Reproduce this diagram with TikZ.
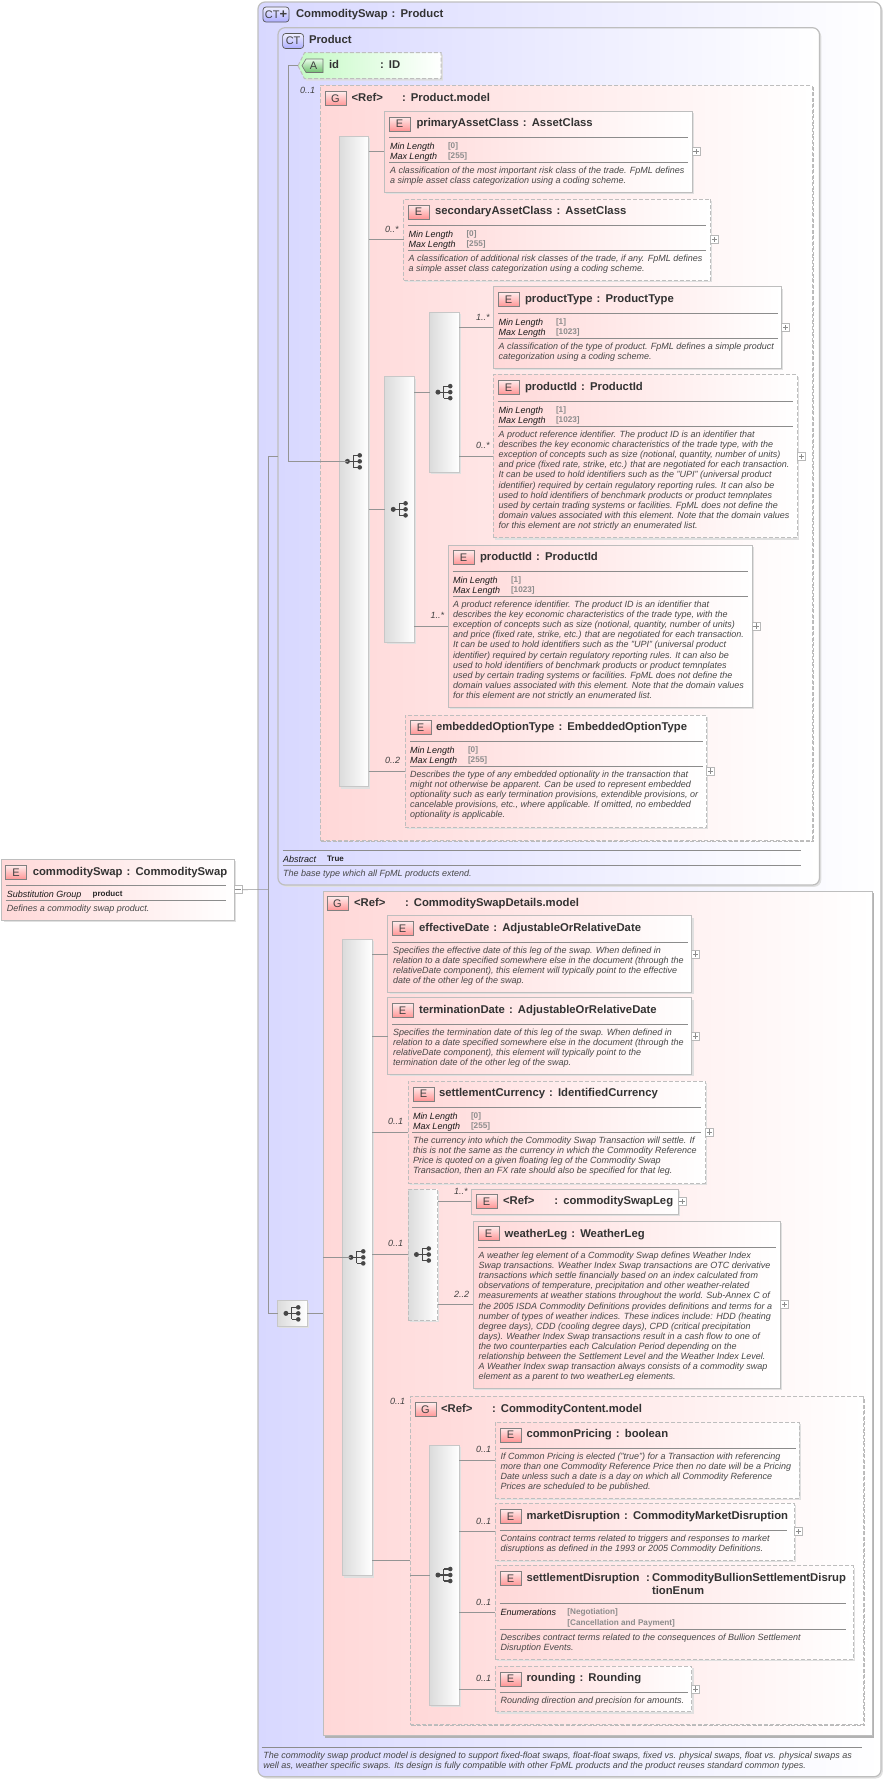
\documentclass[tikz,border=0pt]{standalone}
\usepackage{xcolor}
\usepackage{fontspec}
\setmainfont{Liberation Sans}
\newfontfamily\titlefont[WordSpace=1.3]{Liberation Sans}
\usetikzlibrary{shadows}
\definecolor{ctblue}{HTML}{D8D8FF}
\definecolor{grppink}{HTML}{FFD8D8}
\definecolor{attgreen}{HTML}{C4FAC4}
\definecolor{attdark}{HTML}{6FBF6F}
\definecolor{frame}{HTML}{BEBEBE}

\begin{document}
\begin{tikzpicture}[x=1pt,y=-1pt]
  \tikzstyle{every node}=[inner sep=0pt,outer sep=0pt]
  \tikzstyle{ctbox}=[draw=frame,line width=1.2pt,rounded corners=7pt,left color=ctblue,right color=white,anchor=north west]
  \tikzstyle{shade}=[general shadow={shadow xshift=1.8pt,shadow yshift=-1.8pt,fill=black!12}]
  \tikzstyle{dashshade}=[general shadow={shadow xshift=1.6pt,shadow yshift=-1.6pt,draw=black!27,line width=1.6pt,dash pattern=on 4pt off 1.5pt}]
  \tikzstyle{grpreq}=[draw=frame,line width=1pt,left color=grppink,right color=white,anchor=north west,general shadow={shadow xshift=2pt,shadow yshift=-2pt,fill=black!30}]
  \tikzstyle{grpopt}=[draw=frame,line width=1pt,dash pattern=on 4pt off 2pt,left color=grppink,right color=white,anchor=north west,dashshade]
  \tikzstyle{elem}=[draw=frame,line width=1pt,left color=grppink,right color=white,anchor=north west,shade]
  \tikzstyle{elemopt}=[draw=frame,line width=1pt,dash pattern=on 4pt off 2pt,left color=grppink,right color=white,anchor=north west,shade]
  \tikzstyle{seqbar}=[draw=black!22,line width=.9pt,left color=black!14,right color=white,anchor=north west,minimum width=29.5pt,shade]
  \tikzstyle{seqbaropt}=[seqbar,draw=frame,dash pattern=on 4pt off 2pt]
  \tikzstyle{badge}=[draw=black!50,line width=.6pt,top color=red!8,bottom color=red!42,anchor=north west,minimum width=21pt,minimum height=14pt,font=\fontsize{11}{11}\selectfont,text=black!75]
  \tikzstyle{ctbadge}=[draw=black!65,line width=.7pt,rounded corners=3pt,top color=blue!6,bottom color=blue!32,anchor=north west,minimum height=15pt,font=\fontsize{11}{11}\selectfont,text=black!75]
  \tikzstyle{title}=[anchor=west,font=\titlefont\bfseries\fontsize{11.3}{12.6}\selectfont,text=black!80,text height=8pt,text depth=0pt]
  \tikzstyle{facet}=[anchor=west,font=\itshape\fontsize{9}{10}\selectfont,text=black!90,text height=8pt,text depth=0pt]
  \tikzstyle{fval}=[anchor=west,font=\bfseries\fontsize{8.2}{10}\selectfont,text=black!45,text height=8pt,text depth=0pt]
  \tikzstyle{desc}=[anchor=north west,align=left,font=\itshape\fontsize{9}{10.1}\selectfont,text=black!72]
  \tikzstyle{mult}=[anchor=west,font=\itshape\fontsize{9}{10}\selectfont,text=black!75,text height=7pt,text depth=0pt]
  \tikzstyle{rule}=[draw=black!45,line width=.7pt]
  \tikzstyle{conn}=[draw=black!42,line width=.7pt]
  \tikzstyle{plusbox}=[draw=black!28,line width=.6pt,fill=white,anchor=west,minimum width=8pt,minimum height=8pt,path picture={\draw[black!45,line width=.6pt] (path picture bounding box.center) ++(-2.7,0) -- ++(5.4,0) ++(-2.7,-2.7) -- ++(0,5.4);}]
  \tikzstyle{minusbox}=[plusbox,path picture={\draw[black!45,line width=.6pt] (path picture bounding box.center) ++(-2.7,0) -- ++(5.4,0);}]
  \tikzset{seqicon/.pic={
    \draw[black!72,line width=1.1pt] (-6.3,0) -- (-.5,0) (-.5,-6) -- (-.5,6) (-.5,-6) -- (6,-6) (-.5,0) -- (6,0) (-.5,6) -- (6,6);
    \fill[black!72] (-6.3,0) circle (2.5) (6,-6) circle (2.3) (6,0) circle (2.3) (6,6) circle (2.3);
  }}

  % outer complex type
  \node[ctbox,minimum width=623pt,minimum height=1774.7pt,shade] (commoditySwapCT) at (258,2) {};
  \node[ctbadge,minimum width=26pt] (commoditySwapBadge) at (263,7) {CT{\bfseries\fontsize{13}{13}\selectfont +}};
  \node[title] (commoditySwapTitle) at (296,13.7) {CommoditySwap : Product};
  \draw[rule] (261.7,1747.3) -- (862.4,1747.3);
  \node[desc] (commoditySwapDoc) at (263.4,1752) {The commodity swap product model is designed to support fixed-float swaps, float-float swaps, fixed vs. physical swaps, float vs. physical swaps as\\well as, weather specific swaps. Its design is fully compatible with other FpML products and the product reuses standard common types.};

  % base type
  \node[ctbox,minimum width=541.5pt,minimum height=857.3pt,shade] (productCT) at (278,27.7) {};
  \node[ctbadge,minimum width=21pt] (productBadge) at (282.6,33.5) {CT};
  \node[title] (productTitle) at (309,39.7) {Product};
  \draw[rule] (282.6,850) -- (801,850);
  \node[facet] (abstractKey) at (283,858) {Abstract};
  \node[fval,text=black!85,font=\bfseries\fontsize{8}{10}\selectfont] (abstractVal) at (327,857.5) {True};
  \draw[rule] (282.6,865.3) -- (801,865.3);
  \node[desc] (productDoc) at (283,870) {The base type which all FpML products extend.};

  \draw[left color=attgreen,right color=white,draw=frame,line width=1pt,dash pattern=on 4pt off 2pt,general shadow={shadow xshift=1.8pt,shadow yshift=-1.8pt,fill=black!13}] (298,65.7) -- (304.5,52.7) -- (441,52.7) -- (441,78.7) -- (304.5,78.7) -- cycle;
  \coordinate (idTip) at (298,65.7);
  \draw[top color=attgreen!40,bottom color=attdark,draw=black!55,line width=.6pt] (302,65.7) -- (306,59) -- (323,59) -- (323,72.5) -- (306,72.5) -- cycle;
  \node[anchor=center,font=\fontsize{11}{11}\selectfont,text=black!75] (idBadge) at (313.5,66) {A};
  \node[title] (idName) at (329,64) {id};
  \node[title] (idType) at (380,64) {: ID};
  \node[mult] (productModelMult) at (300,90) {0..1};

  % Product.model
  \node[grpopt,minimum width=492pt,minimum height=754.3pt] (productModel) at (320,85.7) {};
  \node[badge] (productModelBadge) at (325,91.7) {G};
  \node[title] (productModelRef) at (351.5,97.3) {<Ref>};
  \node[title] (productModelName) at (402,97.3) {: Product.model};
  \node[seqbar,minimum height=650.7pt] (seqOne) at (339,136) {};
  \node[seqbar,minimum height=265.3pt] (seqTwo) at (384.8,376.7) {};
  \node[seqbar,minimum height=159.7pt] (seqThree) at (429.5,312.3) {};

  \node[elem,minimum width=308pt,minimum height=81.3pt] (primaryAssetClass) at (384,111) {};
  \node[badge] (primaryAssetClassBadge) at (389,117) {E};
  \node[title] (primaryAssetClassTitle) at (416.5,122.7) {primaryAssetClass : AssetClass};
  \draw[rule] (389,137) -- (688,137);
  \node[facet] (primaryAssetClassMin) at (390,145.3) {Min Length};
  \node[fval] (primaryAssetClassMinVal) at (448,144.8) {[0]};
  \node[facet] (primaryAssetClassMax) at (390,155) {Max Length};
  \node[fval] (primaryAssetClassMaxVal) at (448,154.5) {[255]};
  \draw[rule] (389,162.3) -- (688,162.3);
  \node[desc] (primaryAssetClassDoc) at (390,167) {A classification of the most important risk class of the trade. FpML defines\\a simple asset class categorization using a coding scheme.};
  \node[plusbox] (primaryAssetClassPlus) at (primaryAssetClass.east) {};

  \node[elemopt,minimum width=307pt,minimum height=81.3pt] (secondaryAssetClass) at (403.5,199) {};
  \node[badge] (secondaryAssetClassBadge) at (408,205) {E};
  \node[title] (secondaryAssetClassTitle) at (435,210.7) {secondaryAssetClass : AssetClass};
  \draw[rule] (408,225) -- (706,225);
  \node[facet] (secondaryAssetClassMin) at (408.5,233.3) {Min Length};
  \node[fval] (secondaryAssetClassMinVal) at (466.5,232.8) {[0]};
  \node[facet] (secondaryAssetClassMax) at (408.5,243) {Max Length};
  \node[fval] (secondaryAssetClassMaxVal) at (466.5,242.5) {[255]};
  \draw[rule] (408,250.3) -- (706,250.3);
  \node[desc] (secondaryAssetClassDoc) at (408.5,255) {A classification of additional risk classes of the trade, if any. FpML defines\\a simple asset class categorization using a coding scheme.};
  \node[plusbox] (secondaryAssetClassPlus) at (secondaryAssetClass.east) {};
  \node[mult] (secondaryAssetClassMult) at (385,229.3) {0..*};

  \node[elem,minimum width=288.2pt,minimum height=81.6pt] (productType) at (493.4,286.7) {};
  \node[badge] (productTypeBadge) at (498,292.7) {E};
  \node[title] (productTypeTitle) at (525,298.5) {productType : ProductType};
  \draw[rule] (498,313) -- (777.5,313);
  \node[facet] (productTypeMin) at (498.5,321.3) {Min Length};
  \node[fval] (productTypeMinVal) at (556,320.8) {[1]};
  \node[facet] (productTypeMax) at (498.5,331) {Max Length};
  \node[fval] (productTypeMaxVal) at (556,330.5) {[1023]};
  \draw[rule] (498,338.3) -- (777.5,338.3);
  \node[desc] (productTypeDoc) at (498.5,343) {A classification of the type of product. FpML defines a simple product\\categorization using a coding scheme.};
  \node[plusbox] (productTypePlus) at (productType.east) {};
  \node[mult] (productTypeMult) at (476,317) {1..*};

  \node[elemopt,minimum width=304pt,minimum height=163pt] (productIdInner) at (493.4,374.7) {};
  \node[badge] (productIdInnerBadge) at (498,380.5) {E};
  \node[title] (productIdInnerTitle) at (525,386.5) {productId : ProductId};
  \draw[rule] (498,401) -- (793,401);
  \node[facet] (productIdInnerMin) at (498.5,409.3) {Min Length};
  \node[fval] (productIdInnerMinVal) at (556,408.8) {[1]};
  \node[facet] (productIdInnerMax) at (498.5,419) {Max Length};
  \node[fval] (productIdInnerMaxVal) at (556,418.5) {[1023]};
  \draw[rule] (498,426.3) -- (793,426.3);
  \node[desc] (productIdInnerDoc) at (498.5,431) {A product reference identifier. The product ID is an identifier that\\describes the key economic characteristics of the trade type, with the\\exception of concepts such as size (notional, quantity, number of units)\\and price (fixed rate, strike, etc.) that are negotiated for each transaction.\\It can be used to hold identifiers such as the "UPI" (universal product\\identifier) required by certain regulatory reporting rules. It can also be\\used to hold identifiers of benchmark products or product temnplates\\used by certain trading systems or facilities. FpML does not define the\\domain values associated with this element. Note that the domain values\\for this element are not strictly an enumerated list.};
  \node[plusbox] (productIdInnerPlus) at (productIdInner.east) {};
  \node[mult] (productIdInnerMult) at (476,445) {0..*};

  \node[elem,minimum width=304pt,minimum height=162.3pt] (productIdOuter) at (448,545) {};
  \node[badge] (productIdOuterBadge) at (453,550.5) {E};
  \node[title] (productIdOuterTitle) at (480,556.7) {productId : ProductId};
  \draw[rule] (452.5,571) -- (748,571);
  \node[facet] (productIdOuterMin) at (453,579.3) {Min Length};
  \node[fval] (productIdOuterMinVal) at (511,578.8) {[1]};
  \node[facet] (productIdOuterMax) at (453,589) {Max Length};
  \node[fval] (productIdOuterMaxVal) at (511,588.5) {[1023]};
  \draw[rule] (452.5,596.3) -- (748,596.3);
  \node[desc] (productIdOuterDoc) at (453,601) {A product reference identifier. The product ID is an identifier that\\describes the key economic characteristics of the trade type, with the\\exception of concepts such as size (notional, quantity, number of units)\\and price (fixed rate, strike, etc.) that are negotiated for each transaction.\\It can be used to hold identifiers such as the "UPI" (universal product\\identifier) required by certain regulatory reporting rules. It can also be\\used to hold identifiers of benchmark products or product temnplates\\used by certain trading systems or facilities. FpML does not define the\\domain values associated with this element. Note that the domain values\\for this element are not strictly an enumerated list.};
  \node[plusbox] (productIdOuterPlus) at (productIdOuter.east) {};
  \node[mult] (productIdOuterMult) at (430.6,615) {1..*};

  \node[elemopt,minimum width=301.4pt,minimum height=112.3pt] (embeddedOptionType) at (405,715) {};
  \node[badge] (embeddedOptionTypeBadge) at (410,720.5) {E};
  \node[title] (embeddedOptionTypeTitle) at (436,726.7) {embeddedOptionType : EmbeddedOptionType};
  \draw[rule] (410,741) -- (703,741);
  \node[facet] (embeddedOptionTypeMin) at (410,749.3) {Min Length};
  \node[fval] (embeddedOptionTypeMinVal) at (468,748.8) {[0]};
  \node[facet] (embeddedOptionTypeMax) at (410,759) {Max Length};
  \node[fval] (embeddedOptionTypeMaxVal) at (468,758.5) {[255]};
  \draw[rule] (410,766.3) -- (703,766.3);
  \node[desc] (embeddedOptionTypeDoc) at (410,771) {Describes the type of any embedded optionality in the transaction that\\might not otherwise be apparent. Can be used to represent embedded\\optionality such as early termination provisions, extendible provisions, or\\cancelable provisions, etc., where applicable. If omitted, no embedded\\optionality is applicable.};
  \node[plusbox] (embeddedOptionTypePlus) at (embeddedOptionType.east) {};
  \node[mult] (embeddedOptionTypeMult) at (385,760) {0..2};

  \draw[conn] (seqOne.east |- primaryAssetClass.west) -- (primaryAssetClass.west);
  \draw[conn] (seqOne.east |- secondaryAssetClass.west) -- (secondaryAssetClass.west);
  \draw[conn] (seqOne.east |- embeddedOptionType.west) -- (embeddedOptionType.west);
  \draw[conn] (seqOne.east |- seqTwo.west) -- (seqTwo.west);
  \draw[conn] (seqTwo.east |- seqThree.west) -- (seqThree.west);
  \draw[conn] (seqTwo.east |- productIdOuter.west) -- (productIdOuter.west);
  \draw[conn] (seqThree.east |- productType.west) -- (productType.west);
  \draw[conn] (seqThree.east |- productIdInner.west) -- (productIdInner.west);
  \pic at (seqOne.center) {seqicon};
  \pic at (seqTwo.center) {seqicon};
  \pic at (seqThree.center) {seqicon};
  \coordinate (seqOneDot) at ([xshift=-6pt]seqOne.center);
  \coordinate (idBus) at (288,65.7);
  \draw[conn] (idTip) -- (idBus) |- (seqOneDot);

  % CommoditySwapDetails.model
  \node[grpreq,minimum width=549pt,minimum height=844.7pt] (detailsModel) at (323,891) {};
  \node[badge] (detailsModelBadge) at (327,896.7) {G};
  \node[title] (detailsModelRef) at (354,902.7) {<Ref>};
  \node[title] (detailsModelName) at (405,902.7) {: CommoditySwapDetails.model};
  \node[seqbar,minimum height=636.7pt] (seqFour) at (342.5,939) {};
  \node[seqbaropt,minimum height=131pt] (choiceLeg) at (408,1189) {};

  \node[elem,minimum width=304pt,minimum height=76.3pt] (effectiveDate) at (387.7,915.7) {};
  \node[badge] (effectiveDateBadge) at (392,921.5) {E};
  \node[title] (effectiveDateTitle) at (419,927.7) {effectiveDate : AdjustableOrRelativeDate};
  \draw[rule] (392,942.3) -- (688,942.3);
  \node[desc] (effectiveDateDoc) at (393,947) {Specifies the effective date of this leg of the swap. When defined in\\relation to a date specified somewhere else in the document (through the\\relativeDate component), this element will typically point to the effective\\date of the other leg of the swap.};
  \node[plusbox] (effectiveDatePlus) at (effectiveDate.east) {};

  \node[elem,minimum width=304pt,minimum height=76.6pt] (terminationDate) at (387.7,997.7) {};
  \node[badge] (terminationDateBadge) at (392,1003.5) {E};
  \node[title] (terminationDateTitle) at (419,1009.7) {terminationDate : AdjustableOrRelativeDate};
  \draw[rule] (392,1024.3) -- (688,1024.3);
  \node[desc] (terminationDateDoc) at (393,1029) {Specifies the termination date of this leg of the swap. When defined in\\relation to a date specified somewhere else in the document (through the\\relativeDate component), this element will typically point to the\\termination date of the other leg of the swap.};
  \node[plusbox] (terminationDatePlus) at (terminationDate.east) {};

  \node[elemopt,minimum width=297.3pt,minimum height=102pt] (settlementCurrency) at (408,1081) {};
  \node[badge] (settlementCurrencyBadge) at (413,1087) {E};
  \node[title] (settlementCurrencyTitle) at (439,1092.7) {settlementCurrency : IdentifiedCurrency};
  \draw[rule] (412,1107.3) -- (701,1107.3);
  \node[facet] (settlementCurrencyMin) at (413,1115.3) {Min Length};
  \node[fval] (settlementCurrencyMinVal) at (471,1114.8) {[0]};
  \node[facet] (settlementCurrencyMax) at (413,1125) {Max Length};
  \node[fval] (settlementCurrencyMaxVal) at (471,1124.5) {[255]};
  \draw[rule] (412,1132.3) -- (701,1132.3);
  \node[desc] (settlementCurrencyDoc) at (413,1137) {The currency into which the Commodity Swap Transaction will settle. If\\this is not the same as the currency in which the Commodity Reference\\Price is quoted on a given floating leg of the Commodity Swap\\Transaction, then an FX rate should also be specified for that leg.};
  \node[plusbox] (settlementCurrencyPlus) at (settlementCurrency.east) {};
  \node[mult] (settlementCurrencyMult) at (388,1121) {0..1};
  \node[mult] (choiceLegMult) at (388,1243.3) {0..1};

  \node[elem,minimum width=206.7pt,minimum height=25.3pt] (commoditySwapLeg) at (471.3,1189) {};
  \node[badge] (commoditySwapLegBadge) at (476,1194.5) {E};
  \node[title] (commoditySwapLegRef) at (503,1200.7) {<Ref>};
  \node[title] (commoditySwapLegName) at (554.4,1200.7) {: commoditySwapLeg};
  \node[plusbox] (commoditySwapLegPlus) at (commoditySwapLeg.east) {};
  \node[mult] (commoditySwapLegMult) at (454,1191) {1..*};

  \node[elem,minimum width=307.4pt,minimum height=167.3pt] (weatherLeg) at (473,1221) {};
  \node[badge] (weatherLegBadge) at (478,1226.7) {E};
  \node[title] (weatherLegTitle) at (504.5,1233) {weatherLeg : WeatherLeg};
  \draw[rule] (478,1247.3) -- (776,1247.3);
  \node[desc] (weatherLegDoc) at (478.5,1252) {A weather leg element of a Commodity Swap defines Weather Index\\Swap transactions. Weather Index Swap transactions are OTC derivative\\transactions which settle financially based on an index calculated from\\observations of temperature, precipitation and other weather-related\\measurements at weather stations throughout the world. Sub-Annex C of\\the 2005 ISDA Commodity Definitions provides definitions and terms for a\\number of types of weather indices. These indices include: HDD (heating\\degree days), CDD (cooling degree days), CPD (critical precipitation\\days). Weather Index Swap transactions result in a cash flow to one of\\the two counterparties each Calculation Period depending on the\\relationship between the Settlement Level and the Weather Index Level.\\A Weather Index swap transaction always consists of a commodity swap\\element as a parent to two weatherLeg elements.};
  \node[plusbox] (weatherLegPlus) at (weatherLeg.east) {};
  \node[mult] (weatherLegMult) at (454,1293.7) {2..2};

  % CommodityContent.model
  \node[grpopt,minimum width=453pt,minimum height=327.3pt] (contentModel) at (410,1396.7) {};
  \node[mult] (contentModelMult) at (390,1401.3) {0..1};
  \node[badge] (contentModelBadge) at (415,1402.7) {G};
  \node[title] (contentModelRef) at (441,1408.7) {<Ref>};
  \node[title] (contentModelName) at (492,1408.7) {: CommodityContent.model};
  \node[seqbar,minimum height=260pt] (seqFive) at (429.5,1445) {};

  \node[elemopt,minimum width=304pt,minimum height=76.3pt] (commonPricing) at (495,1422) {};
  \node[badge] (commonPricingBadge) at (500,1428) {E};
  \node[title] (commonPricingTitle) at (526.5,1433.7) {commonPricing : boolean};
  \draw[rule] (499.5,1448.3) -- (795.5,1448.3);
  \node[desc] (commonPricingDoc) at (500.5,1453) {If Common Pricing is elected ("true") for a Transaction with referencing\\more than one Commodity Reference Price then no date will be a Pricing\\Date unless such a date is a day on which all Commodity Reference\\Prices are scheduled to be published.};
  \node[mult] (commonPricingMult) at (476,1449) {0..1};

  \node[elemopt,minimum width=299.6pt,minimum height=56.7pt] (marketDisruption) at (495,1503.3) {};
  \node[badge] (marketDisruptionBadge) at (500,1509.5) {E};
  \node[title] (marketDisruptionTitle) at (526.5,1515.3) {marketDisruption : CommodityMarketDisruption};
  \draw[rule] (499.5,1530.3) -- (787,1530.3);
  \node[desc] (marketDisruptionDoc) at (500.5,1535) {Contains contract terms related to triggers and responses to market\\disruptions as defined in the 1993 or 2005 Commodity Definitions.};
  \node[plusbox] (marketDisruptionPlus) at (marketDisruption.east) {};
  \node[mult] (marketDisruptionMult) at (476,1521) {0..1};

  \node[elemopt,minimum width=358.4pt,minimum height=93.6pt] (settlementDisruption) at (495,1565.7) {};
  \node[badge] (settlementDisruptionBadge) at (500,1571.5) {E};
  \node[title] (settlementDisruptionTitle) at (526.5,1577.7) {settlementDisruption};
  \node[title] (settlementDisruptionColon) at (646,1577.7) {:};
  \node[title] (settlementDisruptionType) at (652,1577.7) {CommodityBullionSettlementDisrup};
  \node[title] (settlementDisruptionTypeEnd) at (652,1590.3) {tionEnum};
  \draw[rule] (499.5,1603.3) -- (845.5,1603.3);
  \node[facet] (settlementDisruptionEnum) at (500.7,1611.3) {Enumerations};
  \node[fval] (settlementDisruptionEnumOne) at (567.4,1610.7) {[Negotiation]};
  \node[fval] (settlementDisruptionEnumTwo) at (567.4,1621.7) {[Cancellation and Payment]};
  \draw[rule] (499.5,1629.3) -- (845.5,1629.3);
  \node[desc] (settlementDisruptionDoc) at (500.5,1634) {Describes contract terms related to the consequences of Bullion Settlement\\Disruption Events.};
  \node[mult] (settlementDisruptionMult) at (476,1602) {0..1};

  \node[elemopt,minimum width=196.7pt,minimum height=45.7pt] (rounding) at (495,1666) {};
  \node[badge] (roundingBadge) at (500,1672) {E};
  \node[title] (roundingTitle) at (526.5,1677.7) {rounding : Rounding};
  \draw[rule] (499.5,1692.3) -- (687.5,1692.3);
  \node[desc] (roundingDoc) at (500.5,1697) {Rounding direction and precision for amounts.};
  \node[plusbox] (roundingPlus) at (rounding.east) {};
  \node[mult] (roundingMult) at (476,1677.7) {0..1};

  \draw[conn] (seqFour.east |- effectiveDate.west) -- (effectiveDate.west);
  \draw[conn] (seqFour.east |- terminationDate.west) -- (terminationDate.west);
  \draw[conn] (seqFour.east |- settlementCurrency.west) -- (settlementCurrency.west);
  \draw[conn] (seqFour.east |- choiceLeg.west) -- (choiceLeg.west);
  \draw[conn] (seqFour.east |- contentModel.west) -- (contentModel.west);
  \draw[conn] (choiceLeg.east |- commoditySwapLeg.west) -- (commoditySwapLeg.west);
  \draw[conn] (choiceLeg.east |- weatherLeg.west) -- (weatherLeg.west);
  \draw[conn] (contentModel.west |- seqFive.west) -- (seqFive.west);
  \draw[conn] (seqFive.east |- commonPricing.west) -- (commonPricing.west);
  \draw[conn] (seqFive.east |- marketDisruption.west) -- (marketDisruption.west);
  \draw[conn] (seqFive.east |- settlementDisruption.west) -- (settlementDisruption.west);
  \draw[conn] (seqFive.east |- rounding.west) -- (rounding.west);
  \pic at (seqFour.center) {seqicon};
  \pic at (choiceLeg.center) {seqicon};
  \pic at (seqFive.center) {seqicon};
  \coordinate (seqFourDot) at ([xshift=-6pt]seqFour.center);
  \draw[conn] (detailsModel.west |- seqFourDot) -- (seqFourDot);

  % root element
  \node[elem,minimum width=232.3pt,minimum height=60.7pt] (commoditySwap) at (1.7,859.3) {};
  \node[badge] (commoditySwapElemBadge) at (5.6,865.5) {E};
  \node[title] (commoditySwapElemTitle) at (32.8,871.3) {commoditySwap : CommoditySwap};
  \draw[rule] (5.6,885.3) -- (225.5,885.3);
  \node[facet] (substitutionKey) at (6.8,893.3) {Substitution Group};
  \node[fval,text=black!85,font=\bfseries\fontsize{8}{10}\selectfont] (substitutionVal) at (92.7,892.7) {product};
  \draw[rule] (5.6,900.3) -- (225.5,900.3);
  \node[desc] (commoditySwapElemDoc) at (6.8,905) {Defines a commodity swap product.};
  \node[minusbox] (commoditySwapMinus) at (commoditySwap.east) {};

  % choice box next to the bases
  \node[seqbar,minimum height=25.3pt] (seqRoot) at (277.5,1300.7) {};
  \pic at (seqRoot.center) {seqicon};
  \coordinate (busRoot) at (268,889.6);
  \draw[conn] (commoditySwapMinus.east) -- (busRoot);
  \draw[conn] (busRoot) |- (productCT.west);
  \draw[conn] (busRoot) |- (seqRoot.west);
  \draw[conn] (seqRoot.east) -- (detailsModel.west |- seqRoot.east);
  \useasboundingbox (0,0) rectangle (885,1780);
\end{tikzpicture}
\end{document}
